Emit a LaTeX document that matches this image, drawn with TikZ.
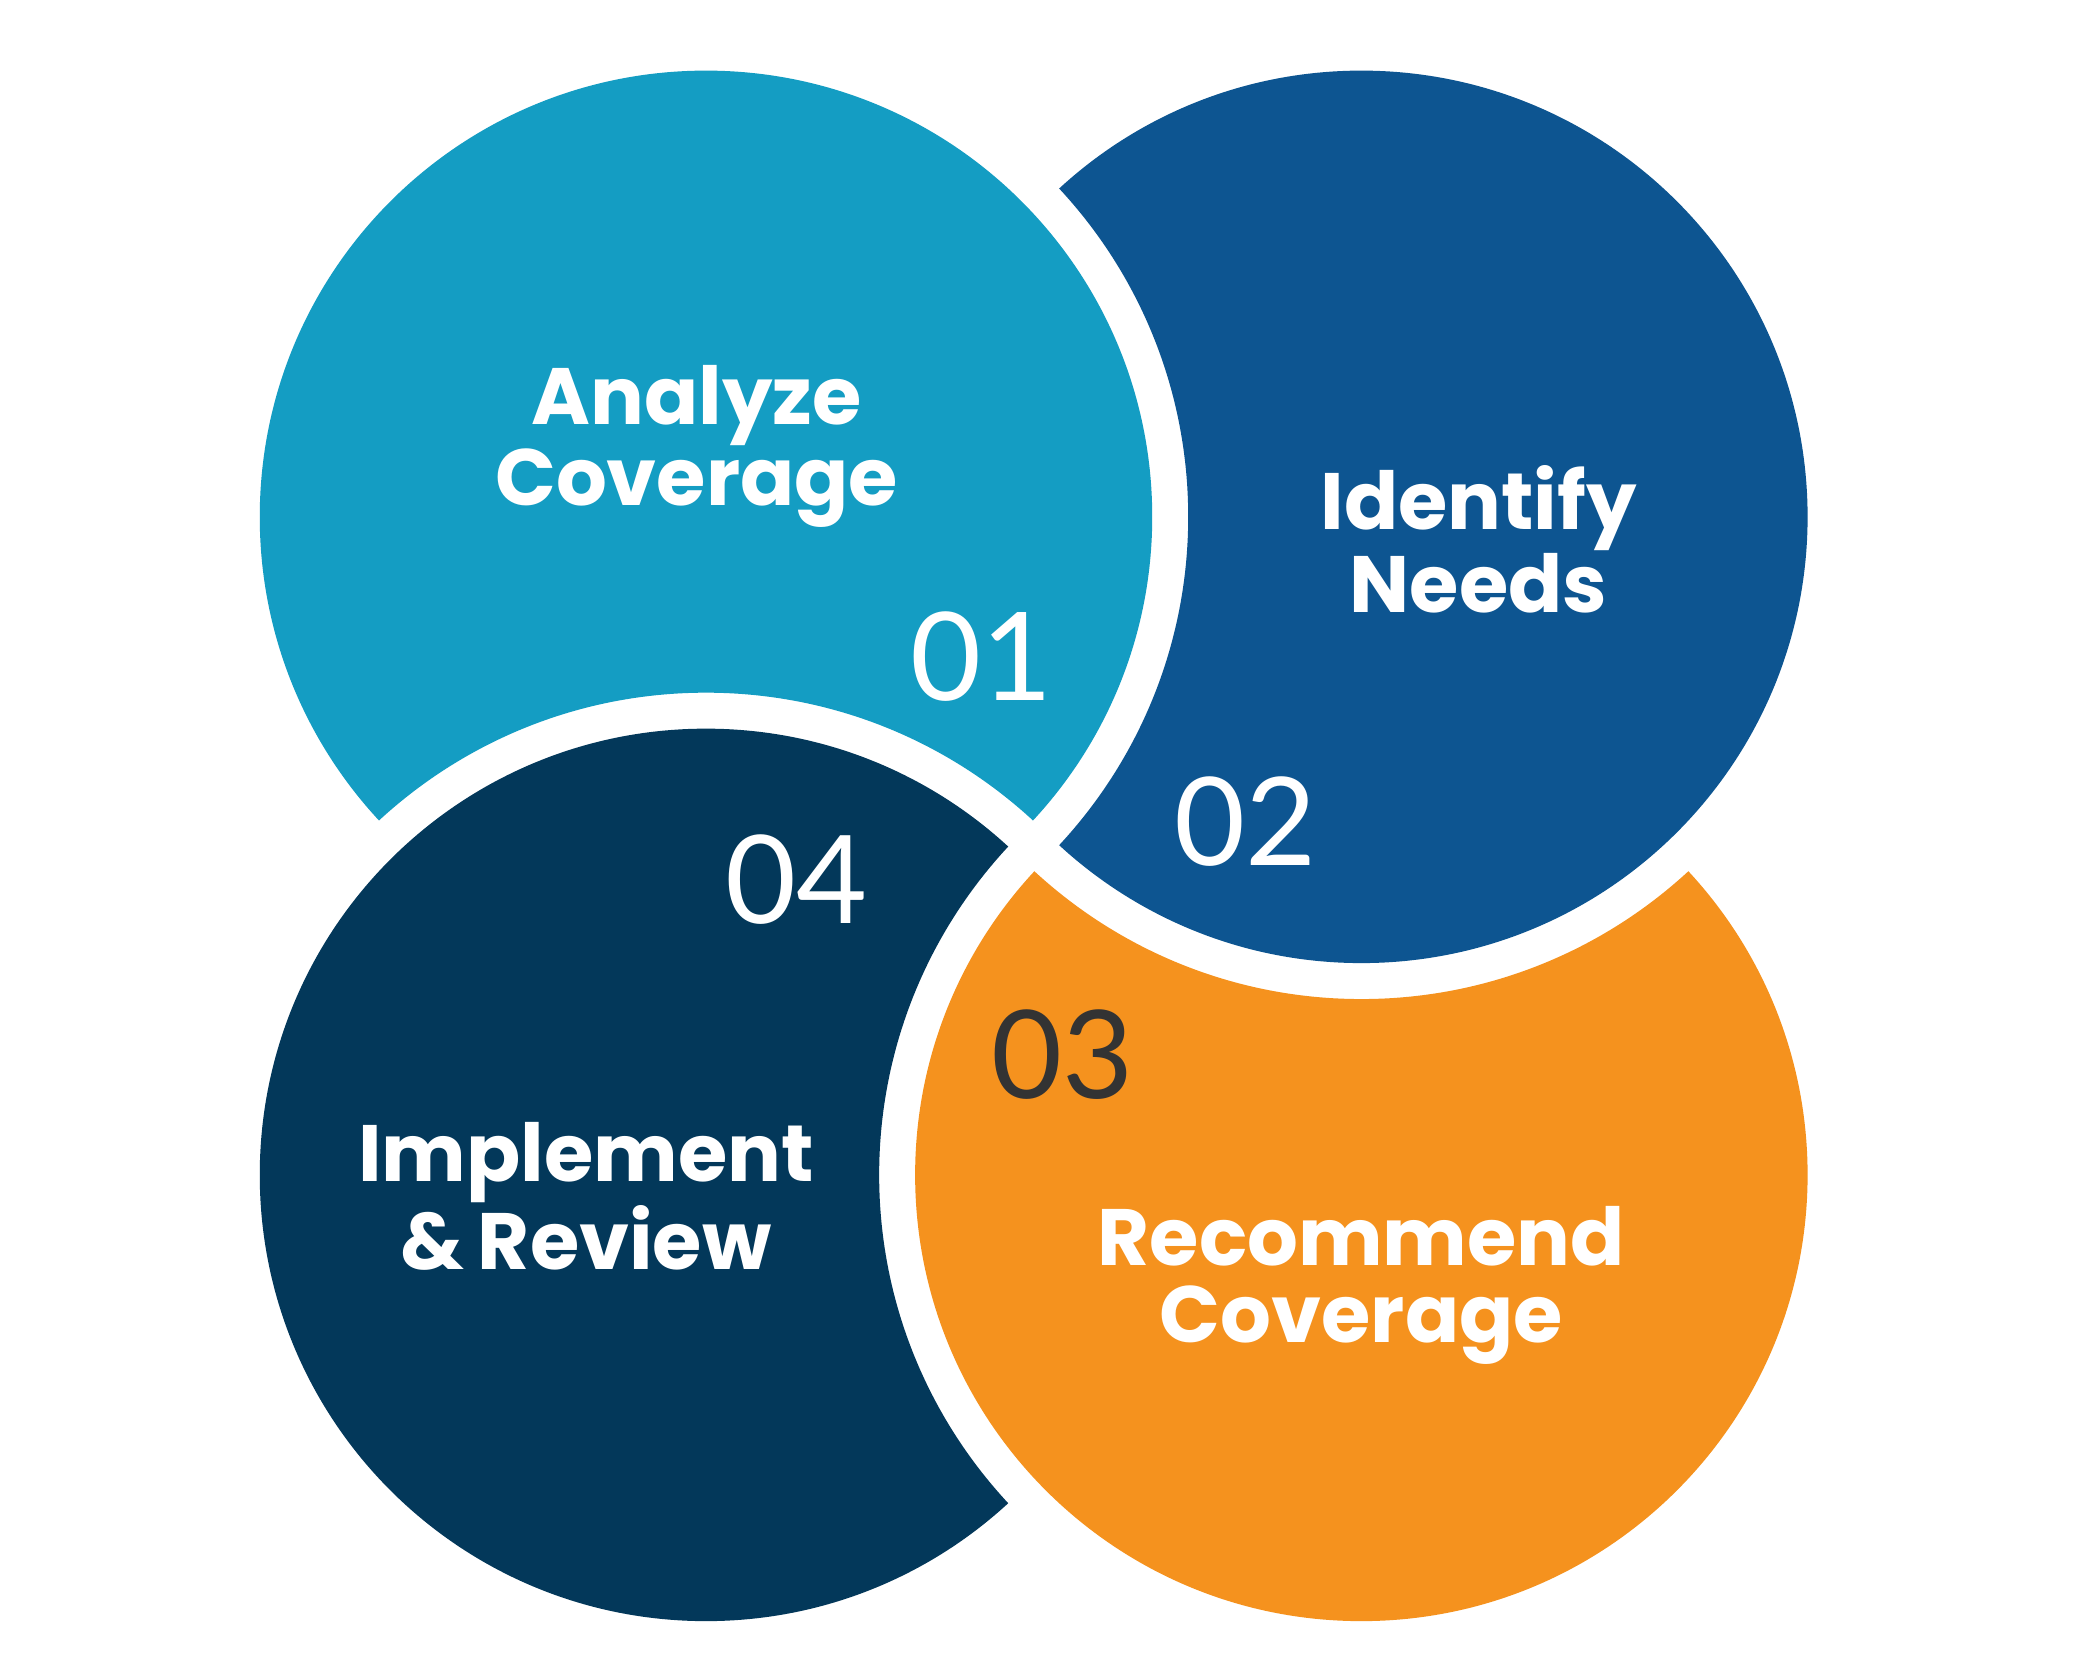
\documentclass[tikz,border=0pt]{standalone}
\usepackage{fontspec}
\setmainfont{Poppins}
\newfontfamily\numfont{Lato}
\definecolor{cA}{HTML}{149DC3}
\definecolor{cB}{HTML}{0D5591}
\definecolor{cC}{HTML}{F5921E}
\definecolor{cD}{HTML}{03385A}
\definecolor{cN}{HTML}{333333}
\begin{document}
\begin{tikzpicture}[x=0.5pt,y=-0.5pt,
  lbl/.style={text=white,font=\fontsize{30}{29}\selectfont\bfseries,align=center},
  num/.style={font=\fontsize{46}{46}\selectfont\numfont,text=white}]
\fill[white] (0,0) rectangle (1563,1254);
\useasboundingbox (0,0) rectangle (1563,1254);
\def\R{335}\def\G{362}
\begin{scope}[even odd rule]
\clip (0,0) rectangle (1563,1254) (530,882) circle (\G);
\fill[cA] (530,388) circle (\R);
\end{scope}
\begin{scope}[even odd rule]
\clip (0,0) rectangle (1563,1254) (530,388) circle (\G);
\fill[cB] (1022,388) circle (\R);
\end{scope}
\begin{scope}[even odd rule]
\clip (0,0) rectangle (1563,1254) (1022,388) circle (\G);
\fill[cC] (1022,882) circle (\R);
\end{scope}
\begin{scope}[even odd rule]
\clip (0,0) rectangle (1563,1254) (1022,882) circle (\G);
\fill[cD] (530,882) circle (\R);
\end{scope}
\node[lbl] (ta) at (523,335) {Analyze\\Coverage};
\node[lbl] (tb) at (1110,405) {Identify\\Needs};
\node[lbl] (tc) at (1022,965) {Recommend\\Coverage};
\node[lbl] (td) at (440,898) {Implement\\\&\,Review};
\node[num] (na) at (737,493) {01};
\node[num] (nb) at (935,617) {02};
\node[num,text=cN] (nc) at (798,792) {03};
\node[num] (nd) at (598,660) {04};
\end{tikzpicture}
\end{document}
